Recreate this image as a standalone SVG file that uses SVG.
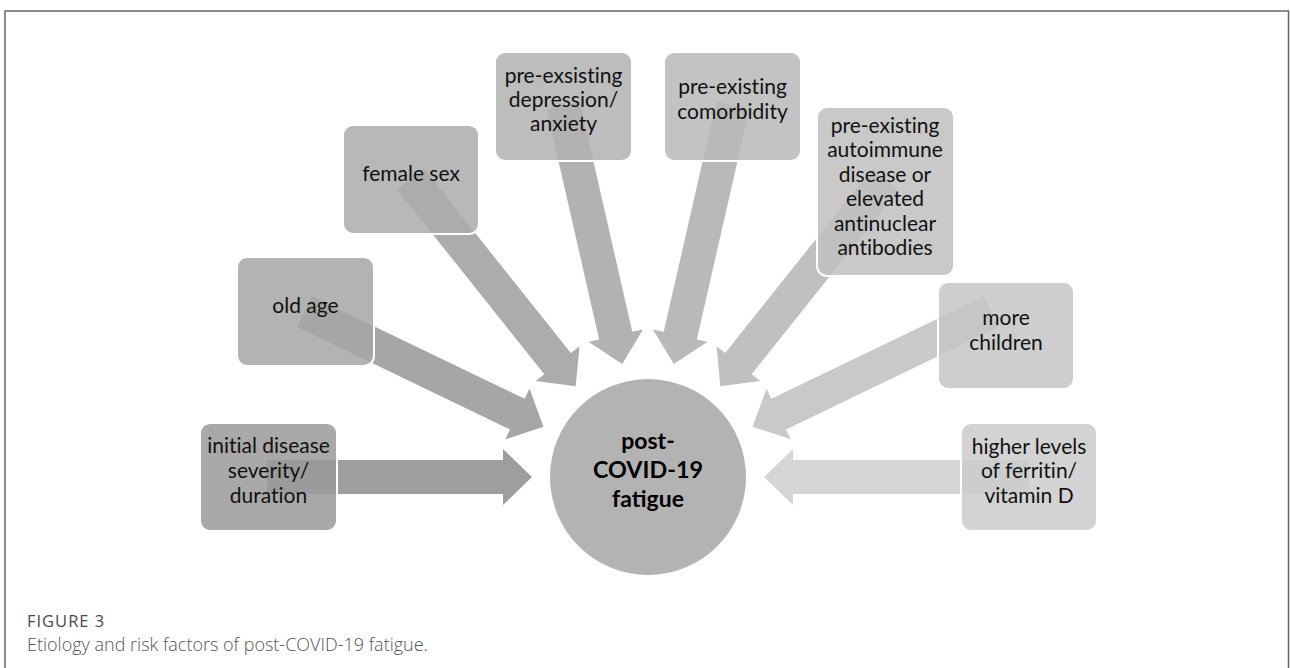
<svg xmlns="http://www.w3.org/2000/svg" width="1290" height="668" viewBox="0 0 1290 668">
<style>
.box{stroke:#ffffff;stroke-width:2;fill-opacity:0.85}
.lbl{font-family:Lato,"Open Sans","Liberation Sans",sans-serif;font-size:21px;fill:#111111;text-anchor:middle;font-variant-ligatures:none}
.ctr{font-family:Lato,"Open Sans","Liberation Sans",sans-serif;font-size:23px;font-weight:bold;fill:#000000;text-anchor:middle}
.cap1{font-family:"Open Sans","Liberation Sans",sans-serif;font-size:16.5px;letter-spacing:1px;fill:#4a4a4a}
.cap2{font-family:"Open Sans","Liberation Sans",sans-serif;font-size:18px;font-weight:300;fill:#555555}
.frame{fill:none;stroke:#666666;stroke-width:1.5}
</style>
<defs>
<polygon id="arr" points="-381,-17 -145,-17 -145,-28 -116,0 -145,28 -145,17 -381,17"/>
</defs>
<rect width="1290" height="668" fill="#ffffff"/>
<path class="frame" d="M5,668 V11 H1288.5 V668"/>
<g id="connectors">
<use href="#arr" transform="translate(648,477) rotate(0)" fill="#9e9e9e"/>
<use href="#arr" transform="translate(648,477) rotate(25.714)" fill="#a6a6a6"/>
<use href="#arr" transform="translate(648,477) rotate(51.429)" fill="#acacac"/>
<use href="#arr" transform="translate(648,477) rotate(77.143)" fill="#b2b2b2"/>
<use href="#arr" transform="translate(648,477) rotate(102.857)" fill="#b9b9b9"/>
<use href="#arr" transform="translate(648,477) rotate(128.571)" fill="#c0c0c0"/>
<use href="#arr" transform="translate(648,477) rotate(154.286)" fill="#c9c9c9"/>
<use href="#arr" transform="translate(648,477) rotate(180)" fill="#d5d5d5"/>
</g>
<g id="n-initial">
<rect class="box" x="200" y="423" width="137" height="108" rx="10" fill="#9a9a9a"/>
<text class="lbl" x="268.5" y="453">initial disease</text>
<text class="lbl" x="268.5" y="478">severity/</text>
<text class="lbl" x="268.5" y="503">duration</text>
</g>
<g id="n-oldage">
<rect class="box" x="237" y="257" width="137" height="109" rx="10" fill="#a6a6a6"/>
<text class="lbl" x="305.5" y="313">old age</text>
</g>
<g id="n-female">
<rect class="box" x="343" y="125" width="136" height="109" rx="10" fill="#acacac"/>
<text class="lbl" x="411" y="181">female sex</text>
</g>
<g id="n-depression">
<rect class="box" x="495" y="52" width="137" height="109" rx="10" fill="#b2b2b2"/>
<text class="lbl" x="563.5" y="83">pre-exsisting</text>
<text class="lbl" x="563.5" y="107">depression/</text>
<text class="lbl" x="563.5" y="131">anxiety</text>
</g>
<g id="n-comorbidity">
<rect class="box" x="664" y="52" width="137" height="109" rx="10" fill="#b9b9b9"/>
<text class="lbl" x="732.5" y="94">pre-existing</text>
<text class="lbl" x="732.5" y="119">comorbidity</text>
</g>
<g id="n-autoimmune">
<rect class="box" x="817" y="107" width="137" height="169" rx="10" fill="#bfbfbf"/>
<text class="lbl" x="885" y="133">pre-existing</text>
<text class="lbl" x="885" y="157">autoimmune</text>
<text class="lbl" x="885" y="181.5">disease or</text>
<text class="lbl" x="885" y="206">elevated</text>
<text class="lbl" x="885" y="230.5">antinuclear</text>
<text class="lbl" x="885" y="255">antibodies</text>
</g>
<g id="n-children">
<rect class="box" x="938" y="282" width="136" height="107" rx="10" fill="#c5c5c5"/>
<text class="lbl" x="1006" y="324.5">more</text>
<text class="lbl" x="1006" y="350">children</text>
</g>
<g id="n-ferritin">
<rect class="box" x="961" y="423" width="136" height="108" rx="10" fill="#cbcbcb"/>
<text class="lbl" x="1029" y="453.5">higher levels</text>
<text class="lbl" x="1029" y="478">of ferritin/</text>
<text class="lbl" x="1029" y="502.5">vitamin D</text>
</g>
<g id="n-center">
<circle cx="648" cy="477" r="98" fill="#b3b3b3"/>
<text class="ctr" x="648" y="449">post-</text>
<text class="ctr" x="648" y="477.5" textLength="110" lengthAdjust="spacingAndGlyphs">COVID-19</text>
<text class="ctr" x="648" y="507">fatigue</text>
</g>
<g id="caption">
<text class="cap1" x="27" y="627">FIGURE 3</text>
<text class="cap2" x="27" y="651">Etiology and risk factors of post-COVID-19 fatigue.</text>
</g>
</svg>
